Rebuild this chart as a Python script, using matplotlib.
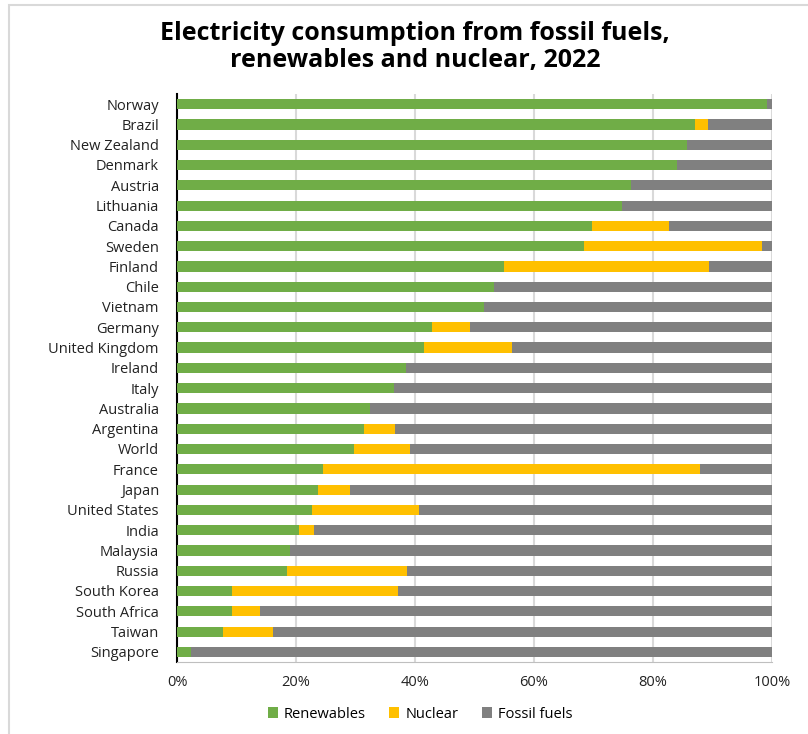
import numpy as np
import matplotlib.pyplot as plt
from matplotlib.patches import Rectangle
from matplotlib.ticker import PercentFormatter

# Data (share of electricity, %), top to bottom
countries = ["Norway", "Brazil", "New Zealand", "Denmark", "Austria", "Lithuania",
             "Canada", "Sweden", "Finland", "Chile", "Vietnam", "Germany",
             "United Kingdom", "Ireland", "Italy", "Australia", "Argentina", "World",
             "France", "Japan", "United States", "India", "Malaysia", "Russia",
             "South Korea", "South Africa", "Taiwan", "Singapore"]
renewables = [99.2, 87.0, 85.7, 84.1, 76.3, 74.8, 69.8, 68.4, 55.0, 53.2, 51.6, 42.9,
              41.5, 38.5, 36.4, 32.4, 31.5, 29.8, 24.6, 23.7, 22.7, 20.5, 19.0, 18.5,
              9.2, 9.2, 7.8, 2.4]
nuclear = [0.0, 2.2, 0.0, 0.0, 0.0, 0.0, 12.9, 29.9, 34.4, 0.0, 0.0, 6.4,
           14.8, 0.0, 0.0, 0.0, 5.1, 9.3, 63.3, 5.3, 17.9, 2.5, 0.0, 20.2,
           28.0, 4.7, 8.3, 0.0]

ren = np.array(renewables)
nuc = np.array(nuclear)
fos = 100.0 - ren - nuc

plt.rcParams['font.family'] = ['Open Sans', 'DejaVu Sans']

fig = plt.figure(figsize=(8.08, 7.34), dpi=100)
ax = fig.add_axes([177/808, 1 - 662/734, (772-177)/808, (662-94)/734])

y = np.arange(len(countries))[::-1]
h = 0.5
ax.barh(y, ren, height=h, color="#70AD47", label="Renewables", zorder=3)
ax.barh(y, nuc, left=ren, height=h, color="#FFC000", label="Nuclear", zorder=3)
ax.barh(y, fos, left=ren + nuc, height=h, color="#808080", label="Fossil fuels", zorder=3)

ax.set_xlim(0, 100)
ax.set_ylim(-0.5, len(countries) - 0.5)
ax.set_xticks([0, 20, 40, 60, 80, 100])
ax.xaxis.set_major_formatter(PercentFormatter(decimals=0))
ax.set_yticks(y)
ax.set_yticklabels(countries)
ax.tick_params(axis="both", length=0, labelsize=10.5, colors="#222222")
ax.tick_params(axis="x", pad=9)
ax.tick_params(axis="y", pad=13)
ax.grid(axis="x", color="#D9D9D9", linewidth=1.5, zorder=0)

for s in ["top", "right"]:
    ax.spines[s].set_visible(False)
ax.spines["left"].set_color("black")
ax.spines["left"].set_linewidth(1.5)
ax.spines["bottom"].set_color("#BFBFBF")

fig.text(415/808, 1 - 47/734, "Electricity consumption from fossil fuels,\nrenewables and nuclear, 2022",
         ha="center", va="center", fontsize=18, fontweight="bold", linespacing=1.12)

fig.legend(loc="center", bbox_to_anchor=(420/808, 1 - 714/734), ncol=3, frameon=False,
           fontsize=10.5, handlelength=0.7, handleheight=0.7, handletextpad=0.4,
           columnspacing=1.6)

# light chart-area border (top and left visible in the reference)
fig.patches.append(Rectangle((9/808, -0.1), 1.1, 1.1 - 5/734, transform=fig.transFigure,
                             fill=False, edgecolor="#D9D9D9", linewidth=1.5))

fig.savefig("out.png", dpi=100)
